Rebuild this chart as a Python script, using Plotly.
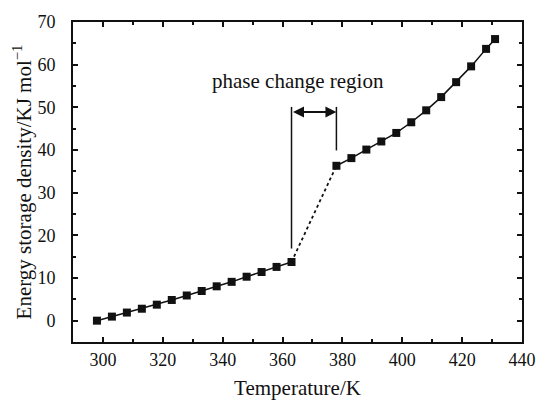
import plotly.graph_objects as go

# Data
temp_solid = [298, 303, 308, 313, 318, 323, 328, 333, 338, 343, 348, 353, 358, 363]
energy_solid = [0.0, 0.95, 1.9, 2.8, 3.75, 4.85, 5.9, 6.95, 8.05, 9.1, 10.3, 11.4, 12.6, 13.75]
temp_liquid = [378, 383, 388, 393, 398, 403, 408, 413, 418, 423, 428, 431]
energy_liquid = [36.3, 38.1, 40.1, 42.0, 44.0, 46.5, 49.3, 52.4, 55.9, 59.6, 63.7, 66.0]

region_start = 363
region_end = 378
region_label = "phase change region"

font_family = "'Liberation Serif', 'Times New Roman', serif"
ink = "#111111"

fig = go.Figure()
marker = dict(symbol="square", size=8, color=ink)
line = dict(color=ink, width=1.5)

fig.add_trace(go.Scatter(x=temp_solid, y=energy_solid, mode="lines+markers",
                         marker=marker, line=line, showlegend=False))
fig.add_trace(go.Scatter(x=[temp_solid[-1], temp_liquid[0]],
                         y=[energy_solid[-1], energy_liquid[0]], mode="lines",
                         line=dict(color=ink, width=1.8, dash="dot"),
                         showlegend=False))
fig.add_trace(go.Scatter(x=temp_liquid, y=energy_liquid, mode="lines+markers",
                         marker=marker, line=line, showlegend=False))

# phase change region markers
fig.add_shape(type="line", x0=region_start, x1=region_start, y0=16.9, y1=50.1,
              line=dict(color=ink, width=1.5))
fig.add_shape(type="line", x0=region_end, x1=region_end, y0=39.9, y1=50.1,
              line=dict(color=ink, width=1.5))
fig.add_annotation(x=region_end, y=48.9, ax=region_start, ay=48.9,
                   xref="x", yref="y", axref="x", ayref="y", text="",
                   showarrow=True, arrowhead=2, arrowside="end+start",
                   arrowsize=1.1, arrowwidth=2, arrowcolor=ink,
                   standoff=0, startstandoff=0)
fig.add_annotation(x=365.2, y=56.2, text=region_label, showarrow=False,
                   font=dict(family=font_family, size=21, color=ink))

axis_common = dict(ticks="inside", ticklen=5, tickwidth=1.5, tickcolor=ink,
                   showline=True, linecolor=ink, linewidth=2, mirror="allticks",
                   showgrid=False, zeroline=False, automargin=False,
                   tickfont=dict(family=font_family, size=18, color=ink))

fig.update_xaxes(range=[290, 440], tick0=300, dtick=20, ticklabelstandoff=0,
                 minor=dict(ticks="inside", ticklen=3, tickcolor=ink, dtick=10, tick0=290),
                 title=dict(text="Temperature/K", font=dict(family=font_family, size=21, color=ink),
                            standoff=21),
                 **axis_common)
fig.update_yaxes(range=[-5, 70], tick0=0, dtick=10, ticklabelstandoff=12,
                 minor=dict(ticks="inside", ticklen=3, tickcolor=ink, dtick=5, tick0=0),
                 title=dict(text="Energy storage density/KJ mol<sup>\u22121</sup>",
                            font=dict(family=font_family, size=21, color=ink),
                            standoff=0),
                 **axis_common)

fig.update_layout(width=537, height=400, plot_bgcolor="white", paper_bgcolor="white",
                  font=dict(family=font_family),
                  margin=dict(l=73, r=15, t=22, b=58))

fig.write_html("out.html")
